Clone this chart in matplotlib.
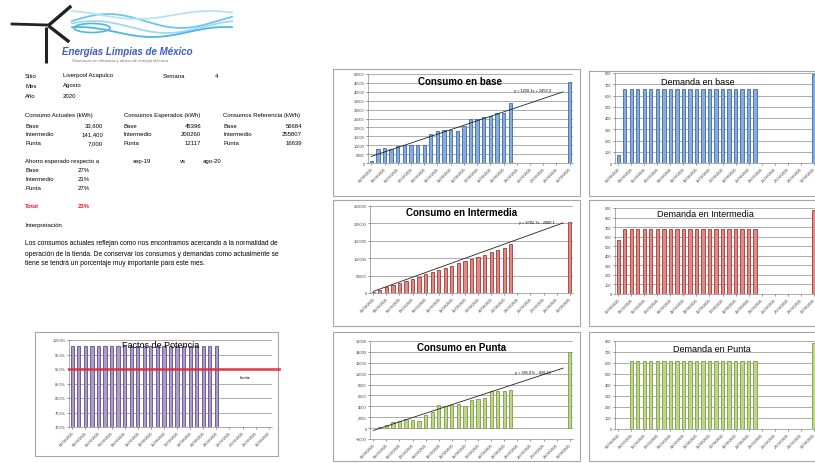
import numpy as np
import matplotlib.pyplot as plt
from matplotlib.patches import Rectangle, Ellipse

plt.rcParams['font.family'] = ['Liberation Sans', 'DejaVu Sans']

# Figure size in pixels (dpi 100)
W, H = 815, 464
nan = np.nan

# Categories: days of August 2020
dias = [f"{d:02d}/08/2020" for d in range(1, 32)]

# Consumo (kWh) acumulado
consumo_base = [1000, 8000, 8200, 8000, 9300, 10200, 10000, 10200, 10100, 16400, 18000,
                18300, 18800, 18200, 21000, 24700, 24600, 26000, 26400, 27900, 28000, 33600,
                nan, nan, nan, nan, nan, nan, nan, nan, 45400]
consumo_inter = [3500, 9800, 16000, 22500, 28600, 35000, 41000, 47200, 53500, 59800, 66000,
                 72300, 78500, 85000, 91400, 97600, 104000, 110200, 116500, 123000, 130500, 141400,
                 nan, nan, nan, nan, nan, nan, nan, nan, 205000]
consumo_punta = [nan, 200, 600, 1100, 1300, 1600, 1500, 1300, 2500, 3000, 4200,
                 4000, 4300, 4500, 4000, 5200, 5400, 5600, 6800, 6900, 6900, 7000,
                 nan, nan, nan, nan, nan, nan, nan, nan, 13900]

# Demanda (kW)
demanda_base = [70, 660, 660, 660, 660, 660, 660, 660, 660, 660, 660,
                660, 660, 660, 660, 660, 660, 660, 660, 660, 660, 660,
                nan, nan, nan, nan, nan, nan, nan, nan, 790]
demanda_inter = [560, 680, 680, 680, 680, 680, 680, 680, 680, 680, 680,
                 680, 680, 680, 680, 680, 680, 680, 680, 680, 680, 680,
                 nan, nan, nan, nan, nan, nan, nan, nan, 880]
demanda_punta = [nan, nan, 615, 615, 615, 615, 615, 615, 615, 615, 615,
                 615, 615, 615, 615, 615, 615, 615, 615, 615, 615, 615,
                 nan, nan, nan, nan, nan, nan, nan, nan, 780]

# Factor de potencia
factor_potencia = [0.978] * 23 + [nan] * 8
limite_fp = 0.90

# Trend lines as shown in the charts (slope, intercept)
trend_base = (1250.1, 2450.3)
trend_inter = (6782.7, -2080.1)
trend_punta = (395.07, -828.13)

# Text block
sitio, semana, mes, anio = "Liverpool Acapulco", "4", "Agosto", "2020"
periodos = ["Base", "Intermedio", "Punta"]
actuales = ["33,600", "141,400", "7,000"]
esperados = ["45396", "200260", "12117"]
referencia = ["56684", "255807", "16639"]
ahorro = ["27%", "21%", "27%"]
ahorro_total = "23%"
interpretacion = ["Los consumos actuales reflejan como nos encontramos acercando a la normalidad de",
                  "operación de la tienda. De conservar los consumos y demandas como actualmente se",
                  "tiene se tendrá un porcentaje muy importante para este mes."]


def px_box(x0, y0, x1, y1):
    return [x0 / W, 1 - y1 / H, (x1 - x0) / W, (y1 - y0) / H]


fig = plt.figure(figsize=(W / 100, H / 100), dpi=100)
bg = fig.add_axes([0, 0, 1, 1])
bg.set_xlim(0, W)
bg.set_ylim(H, 0)
bg.axis('off')

# Chart frames
frames = [(333, 70, 580, 197), (333, 201, 580, 327), (333, 333, 580, 462),
          (589, 72, 840, 197), (589, 201, 840, 327), (589, 333, 840, 462),
          (35, 333, 278, 457)]
for x0, y0, x1, y1 in frames:
    bg.add_patch(Rectangle((x0, y0), x1 - x0, y1 - y0, fill=False,
                           edgecolor='#A6A6A6', lw=0.8))

# Logo: turbine and waves
bg.plot([46, 46], [28, 64], color='#222222', lw=2.2, solid_capstyle='butt')
bg.plot([49, 70], [26, 8], color='#222222', lw=2.4)
bg.plot([47, 12], [26, 25], color='#222222', lw=2.0)
bg.plot([50, 68], [28, 42], color='#222222', lw=2.4)
t = np.linspace(0, 1, 200)
for k, (amp, off, col) in enumerate([(7, 22, '#6CC6EA'), (6, 28, '#9FD9F1'), (5, 33, '#4FB6E3'),
                                     (4, 16, '#B5E2F4')]):
    xs = 72 + 160 * t
    ys = off - amp * np.sin(2 * np.pi * (t * 1.1 + 0.1 * k))
    bg.plot(xs, ys, color=col, lw=1.3)
bg.add_patch(Ellipse((92, 29), 36, 9, fill=False, edgecolor='#4FB6E3', lw=1.2))
bg.text(62, 52, "Energías Limpias de México", fontsize=7, color='#3B5BC8',
        style='italic', weight='bold', va='center')
bg.text(72, 61, "Soluciones en eficiencia y ahorro de energía eléctrica", fontsize=3,
        color='#777777', va='center')

fs = 4.3
bg.text(25, 76, "Sitio", fontsize=fs, va='center')
bg.text(63, 76, sitio, fontsize=fs, va='center')
bg.text(163, 76, "Semana", fontsize=fs, va='center')
bg.text(215, 76, semana, fontsize=fs, va='center')
bg.text(25, 86, "Mes", fontsize=fs, va='center')
bg.text(63, 86, mes, fontsize=fs, va='center')
bg.text(25, 96, "Año", fontsize=fs, va='center')
bg.text(63, 96, anio, fontsize=fs, va='center')

bg.text(25, 116, "Consumo Actuales (kWh)", fontsize=fs, va='center')
bg.text(124, 116, "Consumos Esperados (kWh)", fontsize=fs, va='center')
bg.text(223, 116, "Consumos Referencia (kWh)", fontsize=fs, va='center')
for i, p in enumerate(periodos):
    y = 126 + 9 * i
    bg.text(25, y, p, fontsize=fs, va='center')
    bg.text(103, y, actuales[i], fontsize=fs, va='center', ha='right')
    bg.text(124, y, p, fontsize=fs, va='center')
    bg.text(201, y, esperados[i], fontsize=fs, va='center', ha='right')
    bg.text(223, y, p, fontsize=fs, va='center')
    bg.text(302, y, referencia[i], fontsize=fs, va='center', ha='right')

bg.text(25, 162, "Ahorro esperado respecto a", fontsize=fs, va='center')
bg.text(133, 162, "sep-19", fontsize=fs, va='center')
bg.text(180, 162, "vs", fontsize=fs, va='center')
bg.text(203, 162, "ago-20", fontsize=fs, va='center')
for i, p in enumerate(periodos):
    y = 171 + 9 * i
    bg.text(25, y, p, fontsize=fs, va='center')
    bg.text(78, y, ahorro[i], fontsize=fs, va='center')
bg.text(25, 207, "Total", fontsize=fs, va='center', color='#E8192C', weight='bold')
bg.text(78, 207, ahorro_total, fontsize=fs, va='center', color='#E8192C', weight='bold')
bg.text(25, 226, "Interpretación", fontsize=fs, va='center')
for i, line in enumerate(interpretacion):
    bg.text(25, 244 + 10 * i, line, fontsize=4.8, va='center')


def bar_chart(box, values, color, edge, yticks, title, title_pos, bold=True,
              fmt=None, trend=None, trend_pos=None):
    ax = fig.add_axes(px_box(*box))
    ax.set_facecolor('none')
    x = np.arange(len(dias))
    ax.bar(x, values, width=0.5, color=color, edgecolor=edge, linewidth=0.6, zorder=3)
    ax.set_xlim(-0.5, len(dias) - 0.5)
    ax.set_ylim(yticks[0], yticks[-1])
    ax.set_yticks(yticks)
    if fmt:
        ax.set_yticklabels([fmt(v) for v in yticks])
    ax.set_xticks(x[::2])
    ax.set_xticklabels(dias[::2], rotation=45, ha='right', rotation_mode='anchor')
    ax.tick_params(labelsize=2.8, length=1.5, width=0.4, pad=1, colors='#404040')
    ax.yaxis.grid(True, color='#8C8C8C', lw=0.5)
    ax.set_axisbelow(True)
    for s in ['top', 'right']:
        ax.spines[s].set_visible(False)
    for s in ['left', 'bottom']:
        ax.spines[s].set_color('#8C8C8C')
        ax.spines[s].set_linewidth(0.5)
    ax.text(title_pos[0], title_pos[1], title, transform=ax.transAxes, ha='center',
            va='center', fontsize=7 if bold else 6.5, weight='bold' if bold else 'normal',
            zorder=5)
    if trend:
        m, b = trend
        tx = np.array([1, 30])
        ax.plot(tx - 1, m * tx + b, color='#222222', lw=0.6, zorder=4)
        sign = '+' if b >= 0 else '-'
        ax.text(trend_pos[0], trend_pos[1], f"y = {m}x {sign} {abs(b)}",
                transform=ax.transAxes, ha='center', va='center', fontsize=2.8, zorder=5)
    return ax


blue, blue_e = '#86ACDD', '#3D6AA8'
red, red_e = '#E08A87', '#A63834'
green, green_e = '#BCD68A', '#7E9C42'
purple, purple_e = '#AC9CCB', '#624C8C'

bar_chart((368, 75, 573, 164), consumo_base, blue, blue_e, list(range(0, 50001, 5000)),
          "Consumo en base", (0.45, 0.92), trend=trend_base, trend_pos=(0.80, 0.82))
bar_chart((370, 207, 573, 294), consumo_inter, red, red_e, list(range(0, 250001, 50000)),
          "Consumo en Intermedia", (0.45, 0.93), trend=trend_inter, trend_pos=(0.82, 0.82))
bar_chart((370, 342, 573, 440), consumo_punta, green, green_e, list(range(-2000, 16001, 2000)),
          "Consumo en Punta", (0.45, 0.94), trend=trend_punta, trend_pos=(0.80, 0.68))

bar_chart((615, 74, 817, 164), demanda_base, blue, blue_e, list(range(0, 801, 100)),
          "Demanda en base", (0.41, 0.90), bold=False)
bar_chart((615, 209, 817, 295), demanda_inter, red, red_e, list(range(0, 901, 100)),
          "Demanda en Intermedia", (0.45, 0.94), bold=False)
bar_chart((615, 342, 817, 430), demanda_punta, green, green_e, list(range(0, 801, 100)),
          "Demanda en Punta", (0.48, 0.92), bold=False)

ax_fp = bar_chart((69, 341, 272, 428), factor_potencia, purple, purple_e,
                  [0.70, 0.75, 0.80, 0.85, 0.90, 0.95, 1.00], "Factos de Potencia",
                  (0.45, 0.95), bold=False, fmt=lambda v: f"{v * 100:.1f}%")
ax_fp.plot([-0.5, 31.5], [limite_fp, limite_fp], color='#E0303A', lw=2.0, alpha=0.85,
           clip_on=False, zorder=4)
ax_fp.text(0.84, 0.58, "Limite", transform=ax_fp.transAxes, fontsize=3, va='center')

fig.savefig("out.png", dpi=100)
